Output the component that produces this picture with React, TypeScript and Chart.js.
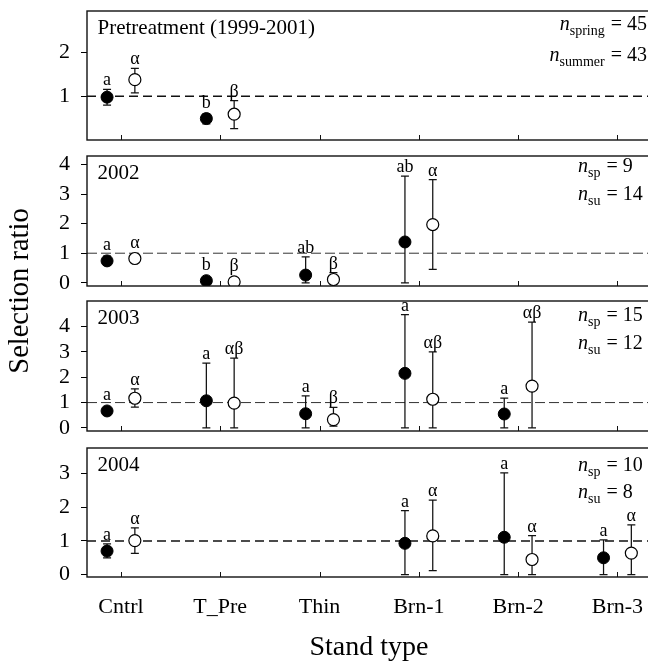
import React, { useEffect, useRef } from 'react';
import { Chart, registerables } from 'chart.js';

Chart.register(...registerables);

// ---------------- data ----------------
const categories = ['Cntrl', 'T_Pre', 'Thin', 'Brn-1', 'Brn-2', 'Brn-3'];
const panelTitles = ['Pretreatment (1999-2001)', '2002', '2003', '2004'];

// Pretreatment (1999-2001)
const preSpring = [0.98, 0.49, null, null, null, null];
const preSpringLow = [0.8, 0.37, null, null, null, null];
const preSpringHigh = [1.16, 0.6, null, null, null, null];
const preSummer = [1.38, 0.59, null, null, null, null];
const preSummerLow = [1.08, 0.26, null, null, null, null];
const preSummerHigh = [1.64, 0.9, null, null, null, null];
const preSpringLetters = ['a', 'b', '', '', '', ''];
const preSummerLetters = ['α', 'β', '', '', '', ''];

// 2002
const y02Spring = [0.74, 0.07, 0.26, 1.38, null, null];
const y02SpringLow = [0.6, 0.03, 0, 0, null, null];
const y02SpringHigh = [0.9, 0.11, 0.88, 3.61, null, null];
const y02Summer = [0.82, 0.03, 0.11, 1.97, null, null];
const y02SummerLow = [0.76, 0, 0, 0.45, null, null];
const y02SummerHigh = [0.88, 0.06, 0.34, 3.49, null, null];
const y02SpringLetters = ['a', 'b', 'ab', 'ab', '', ''];
const y02SummerLetters = ['α', 'β', 'β', 'α', '', ''];

// 2003
const y03Spring = [0.67, 1.07, 0.56, 2.15, 0.55, null];
const y03SpringLow = [0.6, 0, 0, 0, 0, null];
const y03SpringHigh = [0.74, 2.55, 1.26, 4.46, 1.17, null];
const y03Summer = [1.17, 0.98, 0.33, 1.13, 1.65, null];
const y03SummerLow = [0.82, 0, 0.07, 0, 0, null];
const y03SummerHigh = [1.54, 2.75, 0.81, 3.0, 4.17, null];
const y03SpringLetters = ['a', 'a', 'a', 'a', 'a', ''];
const y03SummerLetters = ['α', 'αβ', 'β', 'αβ', 'αβ', ''];

// 2004
const y04Spring = [0.7, null, null, 0.93, 1.11, 0.5];
const y04SpringLow = [0.5, null, null, 0, 0, 0];
const y04SpringHigh = [0.91, null, null, 1.9, 3.02, 1.03];
const y04Summer = [1.01, null, null, 1.15, 0.45, 0.64];
const y04SummerLow = [0.63, null, null, 0.12, 0, 0];
const y04SummerHigh = [1.39, null, null, 2.21, 1.16, 1.48];
const y04SpringLetters = ['a', '', '', 'a', 'a', 'a'];
const y04SummerLetters = ['α', '', '', 'α', 'α', 'α'];

// sample sizes
const nSubscripts = [['spring', 'summer'], ['sp', 'su'], ['sp', 'su'], ['sp', 'su']];
const nValues = [['45', '43'], ['9', '14'], ['15', '12'], ['10', '8']];

// y axes
const yTickValues = [[1, 2], [0, 1, 2, 3, 4], [0, 1, 2, 3, 4], [0, 1, 2, 3]];
const yMins = [0, -0.11, -0.12, -0.07];
const yMaxs = [2.95, 4.29, 5.0, 3.76];
const referenceValue = 1;

const panels = [
  { title: panelTitles[0], sp: preSpring, spL: preSpringLow, spH: preSpringHigh, su: preSummer, suL: preSummerLow, suH: preSummerHigh, spT: preSpringLetters, suT: preSummerLetters },
  { title: panelTitles[1], sp: y02Spring, spL: y02SpringLow, spH: y02SpringHigh, su: y02Summer, suL: y02SummerLow, suH: y02SummerHigh, spT: y02SpringLetters, suT: y02SummerLetters },
  { title: panelTitles[2], sp: y03Spring, spL: y03SpringLow, spH: y03SpringHigh, su: y03Summer, suL: y03SummerLow, suH: y03SummerHigh, spT: y03SpringLetters, suT: y03SummerLetters },
  { title: panelTitles[3], sp: y04Spring, spL: y04SpringLow, spH: y04SpringHigh, su: y04Summer, suL: y04SummerLow, suH: y04SummerHigh, spT: y04SpringLetters, suT: y04SummerLetters },
];

// ---------------- layout ----------------
const W = 660;
const H = 662;
const LEFT = 87;
const RIGHT = 651;
const BOXES = [[11, 140], [156, 286], [301, 431], [448, 577]];
const N_OFFSETS = [[19, 50], [16, 44], [20, 48], [23, 50]];
const XMIN = 0.658;
const XMAX = 6.338;
const OFF = 0.14;
const SERIF = "'Liberation Serif', 'Times New Roman', Times, serif";

function pts(vals: (number | null)[], off: number) {
  const out: { x: number; y: number }[] = [];
  vals.forEach((v, k) => {
    if (v != null) out.push({ x: k + 1 + off, y: v });
  });
  return out;
}

function drawN(ctx: CanvasRenderingContext2D, x: number, y: number, sub: string, val: string, alignRight: boolean) {
  const main = `20px ${SERIF}`;
  const ital = `italic 20px ${SERIF}`;
  const small = `14px ${SERIF}`;
  const rest = ' = ' + val;
  ctx.font = ital;
  const wN = ctx.measureText('n').width;
  ctx.font = small;
  const wS = ctx.measureText(sub).width;
  ctx.font = main;
  const wR = ctx.measureText(rest).width;
  let sx = alignRight ? x - (wN + wS + 1 + wR) : x;
  ctx.textAlign = 'left';
  ctx.textBaseline = 'alphabetic';
  ctx.fillStyle = '#000';
  ctx.font = ital;
  ctx.fillText('n', sx, y);
  sx += wN;
  ctx.font = small;
  ctx.fillText(sub, sx, y + 5);
  sx += wS + 1;
  ctx.font = main;
  ctx.fillText(rest, sx, y);
}

function makeChart(canvas: HTMLCanvasElement, idx: number) {
  const p = panels[idx];
  const [top, bottom] = BOXES[idx];
  const isLast = idx === 3;
  const heavyDash = idx === 0 || idx === 3;

  const decor = {
    id: 'decor' + idx,
    beforeDatasetsDraw(chart: any) {
      const { ctx, chartArea, scales } = chart;
      const xs = scales.x;
      const ys = scales.y;
      // reference line
      ctx.save();
      ctx.beginPath();
      ctx.rect(chartArea.left, chartArea.top, chartArea.right - chartArea.left, chartArea.bottom - chartArea.top);
      ctx.clip();
      const yr = ys.getPixelForValue(referenceValue);
      ctx.strokeStyle = heavyDash ? '#111' : '#333';
      ctx.lineWidth = heavyDash ? 1.5 : 1;
      ctx.setLineDash(heavyDash ? [9, 5] : [10, 4]);
      ctx.beginPath();
      ctx.moveTo(chartArea.left, yr);
      ctx.lineTo(chartArea.right, yr);
      ctx.stroke();
      ctx.restore();
      // error bars
      ctx.save();
      ctx.strokeStyle = '#111';
      ctx.lineWidth = 1.25;
      const series = [
        [p.sp, p.spL, p.spH, -OFF],
        [p.su, p.suL, p.suH, OFF],
      ] as [(number | null)[], (number | null)[], (number | null)[], number][];
      series.forEach(([m, lo, hi, off]) => {
        m.forEach((v, k) => {
          if (v == null || lo[k] == null || hi[k] == null) return;
          const x = xs.getPixelForValue(k + 1 + off);
          const y1 = ys.getPixelForValue(lo[k] as number);
          const y2 = ys.getPixelForValue(hi[k] as number);
          ctx.beginPath();
          ctx.moveTo(x, y1);
          ctx.lineTo(x, y2);
          ctx.moveTo(x - 4, y1);
          ctx.lineTo(x + 4, y1);
          ctx.moveTo(x - 4, y2);
          ctx.lineTo(x + 4, y2);
          ctx.stroke();
        });
      });
      ctx.restore();
    },
    afterDatasetsDraw(chart: any) {
      const { ctx, chartArea, scales } = chart;
      const xs = scales.x;
      const ys = scales.y;
      ctx.save();
      // box
      ctx.strokeStyle = '#111';
      ctx.lineWidth = 1.4;
      ctx.strokeRect(chartArea.left, chartArea.top, chartArea.right - chartArea.left, chartArea.bottom - chartArea.top);
      // inward x ticks
      ctx.lineWidth = 1;
      ctx.beginPath();
      categories.forEach((_, k) => {
        const x = Math.round(xs.getPixelForValue(k + 1)) + 0.5;
        ctx.moveTo(x, chartArea.bottom);
        ctx.lineTo(x, chartArea.bottom - 5);
      });
      ctx.stroke();
      // letters
      ctx.fillStyle = '#000';
      ctx.font = `18px ${SERIF}`;
      ctx.textAlign = 'center';
      ctx.textBaseline = 'alphabetic';
      const lab = [
        [p.sp, p.spH, p.spT, -OFF],
        [p.su, p.suH, p.suT, OFF],
      ] as [(number | null)[], (number | null)[], string[], number][];
      lab.forEach(([m, hi, letters, off]) => {
        m.forEach((v, k) => {
          if (v == null || !letters[k]) return;
          const x = xs.getPixelForValue(k + 1 + off);
          const yMark = ys.getPixelForValue(v) - 6.5;
          const yHi = hi[k] != null ? ys.getPixelForValue(hi[k] as number) : yMark;
          ctx.fillText(letters[k], x, Math.min(yMark, yHi) - 4);
        });
      });
      // title
      ctx.textAlign = 'left';
      ctx.font = `21px ${SERIF}`;
      ctx.fillText(p.title, 97.5, chartArea.top + 22.5);
      // n text
      const [o1, o2] = N_OFFSETS[idx];
      if (idx === 0) {
        drawN(ctx, 647, chartArea.top + o1, nSubscripts[idx][0], nValues[idx][0], true);
        drawN(ctx, 647, chartArea.top + o2, nSubscripts[idx][1], nValues[idx][1], true);
      } else {
        drawN(ctx, 578, chartArea.top + o1, nSubscripts[idx][0], nValues[idx][0], false);
        drawN(ctx, 578, chartArea.top + o2, nSubscripts[idx][1], nValues[idx][1], false);
      }
      // shared y title
      if (isLast) {
        ctx.save();
        ctx.translate(21, 291);
        ctx.rotate(-Math.PI / 2);
        ctx.textAlign = 'center';
        ctx.textBaseline = 'middle';
        ctx.font = `28.5px ${SERIF}`;
        ctx.fillText('Selection ratio', 0, 0);
        ctx.restore();
      }
      ctx.restore();
    },
  };

  return new Chart(canvas, {
    type: 'scatter',
    data: {
      datasets: [
        {
          label: 'spring',
          data: pts(p.sp, -OFF),
          pointRadius: 6,
          pointBackgroundColor: '#000',
          pointBorderColor: '#000',
          pointBorderWidth: 1,
        },
        {
          label: 'summer',
          data: pts(p.su, OFF),
          pointRadius: 6,
          pointBackgroundColor: '#fff',
          pointBorderColor: '#000',
          pointBorderWidth: 1.2,
        },
      ],
    },
    options: {
      responsive: false,
      animation: false,
      devicePixelRatio: 1,
      events: [],
      layout: {
        autoPadding: false,
        padding: { top, bottom: isLast ? 0 : H - bottom, left: 0, right: W - RIGHT },
      },
      plugins: { legend: { display: false }, tooltip: { enabled: false } },
      scales: {
        x: {
          type: 'linear',
          min: XMIN,
          max: XMAX,
          display: isLast,
          grid: { display: false, drawTicks: false },
          border: { display: false },
          afterBuildTicks: (s: any) => {
            s.ticks = categories.map((_, k) => ({ value: k + 1 }));
          },
          ticks: {
            autoSkip: false,
            maxRotation: 0,
            color: '#000',
            padding: 17,
            font: { family: SERIF, size: 22 },
            callback: (v: any) => categories[Math.round(v) - 1] ?? '',
          },
          title: {
            display: isLast,
            text: 'Stand type',
            color: '#000',
            font: { family: SERIF, size: 28, lineHeight: 1 },
            padding: { top: 0, bottom: 0 },
          },
          afterFit: (s: any) => {
            s.height = isLast ? H - bottom : 0;
            s.paddingLeft = 0;
            s.paddingRight = 0;
          },
        },
        y: {
          type: 'linear',
          min: yMins[idx],
          max: yMaxs[idx],
          grid: { drawOnChartArea: false, drawTicks: true, tickLength: 6, color: '#000', lineWidth: 1 },
          border: { display: false },
          afterBuildTicks: (s: any) => {
            s.ticks = yTickValues[idx].map((v) => ({ value: v }));
          },
          ticks: {
            color: '#000',
            padding: 11,
            font: { family: SERIF, size: 22 },
            callback: (v: any) => String(v),
          },
          afterFit: (s: any) => {
            s.width = LEFT;
            s.paddingTop = 0;
            s.paddingBottom = 0;
          },
        },
      },
    } as any,
    plugins: [decor],
  });
}

export default function App() {
  const refs = useRef<(HTMLCanvasElement | null)[]>([]);
  useEffect(() => {
    const charts = panels.map((_, i) => makeChart(refs.current[i] as HTMLCanvasElement, i));
    return () => charts.forEach((c) => c.destroy());
  }, []);
  return (
    <div style={{ position: 'fixed', left: 0, top: 0, width: 648, height: 662, overflow: 'hidden', background: '#fff' }}>
      {panels.map((_, i) => (
        <canvas
          key={i}
          ref={(el) => {
            refs.current[i] = el;
          }}
          width={W}
          height={H}
          style={{ position: 'absolute', left: 0, top: 0, width: W, height: H }}
        />
      ))}
    </div>
  );
}
